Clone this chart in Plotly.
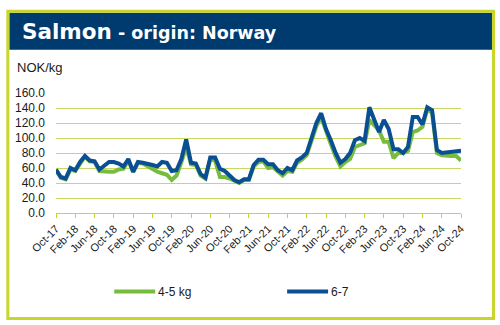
import plotly.graph_objects as go

# ---- data ----
tick_labels = ["Oct-17", "Feb-18", "Jun-18", "Oct-18", "Feb-19", "Jun-19", "Oct-19", "Feb-20",
               "Jun-20", "Oct-20", "Feb-21", "Jun-21", "Oct-21", "Feb-22", "Jun-22", "Oct-22",
               "Feb-23", "Jun-23", "Oct-23", "Feb-24", "Jun-24", "Oct-24"]

salmon_4_5 = [57, 47, 45, 58, 56, 66, 75, 69, 68, 56, 55, 55, 55, 58, 59, 70, 55, 67, 66, 62,
              58, 55, 53, 51, 44, 50, 68, 88, 65, 64, 50, 46, 72, 70, 48, 48, 46, 43, 40, 44,
              44, 62, 68, 69, 60, 61, 55, 50, 56, 55, 67, 71, 77, 96, 116, 128, 108, 92, 75, 62,
              68, 72, 88, 91, 93, 124, 117, 110, 95, 95, 73, 80, 80, 83, 108, 110, 115, 138, 134, 80,
              77, 76, 76, 76, 70]
salmon_6_7 = [58, 48, 46, 60, 57, 68, 76, 70, 69, 58, 63, 68, 68, 66, 62, 72, 55, 68, 67, 66,
              64, 62, 68, 67, 56, 57, 72, 98, 67, 66, 52, 47, 74, 74, 59, 56, 50, 44, 41, 45,
              45, 64, 71, 71, 65, 65, 57, 53, 60, 57, 70, 74, 80, 100, 120, 133, 112, 97, 80, 67,
              72, 80, 97, 100, 96, 141, 125, 108, 124, 112, 85, 85, 80, 88, 128, 128, 118, 141, 137, 84,
              80, 81, 81, 82, 83]

x_idx = list(range(len(salmon_6_7)))

# ---- style ----
W, H = 500, 325
L, R, T, B = 55.7, 39, 92.7, 112
LIME = "#c8d52a"
GRID = "#c9d865"
NAVY = "#003b6f"
GREEN = "#77bc3f"
BLUE = "#0a4f93"
TXT = "#1a1a1a"
pw, ph = W - L - R, H - T - B


def px(x):
    return (x - L) / pw


def py(y):
    return (H - B - y) / ph


fig = go.Figure()
fig.add_trace(go.Scatter(x=x_idx, y=salmon_4_5, mode="lines", name="4-5 kg",
                         line=dict(color=GREEN, width=4), showlegend=False))
fig.add_trace(go.Scatter(x=x_idx, y=salmon_6_7, mode="lines", name="6-7",
                         line=dict(color=BLUE, width=4), showlegend=False))

shapes = [
    dict(type="rect", xref="paper", yref="paper", x0=px(9), x1=px(492), y0=py(12.3), y1=py(49.3),
         fillcolor=NAVY, line=dict(width=0), layer="below"),
    dict(type="rect", xref="paper", yref="paper", x0=px(7.5), x1=px(493.5), y0=py(10.8), y1=py(318.7),
         line=dict(color=LIME, width=3)),
    dict(type="line", xref="paper", yref="paper", x0=px(114), x1=px(155), y0=py(291.7), y1=py(291.7),
         line=dict(color=GREEN, width=4)),
    dict(type="line", xref="paper", yref="paper", x0=px(287), x1=px(328), y0=py(291.7), y1=py(291.7),
         line=dict(color=BLUE, width=4)),
]

annotations = [
    dict(xref="paper", yref="paper", x=px(20), y=py(31), xanchor="left", yanchor="middle",
         showarrow=False,
         text="<b>Salmon</b><span style='font-size:17.5px'><b> - origin: Norway</b></span>",
         font=dict(family="DejaVu Sans", size=21.5, color="white")),
    dict(xref="paper", yref="paper", x=px(15), y=py(67), xanchor="left", yanchor="middle",
         showarrow=False, text="NOK/kg",
         font=dict(family="Liberation Sans, Arial", size=13, color=TXT)),
    dict(xref="paper", yref="paper", x=px(156), y=py(291.7), xanchor="left", yanchor="middle",
         showarrow=False, text="4-5 kg",
         font=dict(family="Liberation Sans, Arial", size=12, color=TXT)),
    dict(xref="paper", yref="paper", x=px(329), y=py(291.7), xanchor="left", yanchor="middle",
         showarrow=False, text="6-7",
         font=dict(family="Liberation Sans, Arial", size=12, color=TXT)),
]

fig.update_layout(
    width=W, height=H,
    margin=dict(l=L, r=R, t=T, b=B, pad=0),
    paper_bgcolor="white", plot_bgcolor="white",
    shapes=shapes, annotations=annotations,
    font=dict(family="Liberation Sans, Arial", color=TXT),
    xaxis=dict(range=[0, len(x_idx) - 1], tickmode="array",
               tickvals=list(range(0, len(x_idx), 4)), ticktext=tick_labels,
               tickangle=-45, tickfont=dict(size=11, color=TXT),
               showgrid=False, zeroline=False, showline=True, linecolor=LIME, linewidth=1,
               ticks="outside", ticklen=4, tickcolor=LIME, tickwidth=1),
    yaxis=dict(range=[0, 160], tickvals=list(range(0, 161, 20)),
               ticktext=[f"{v:.1f}" for v in range(0, 161, 20)],
               tickfont=dict(size=12, color=TXT), showgrid=True, gridcolor=GRID, gridwidth=1,
               zeroline=False, showline=False, ticks="", ticklabelstandoff=10),
)

fig.write_html("out.html")
